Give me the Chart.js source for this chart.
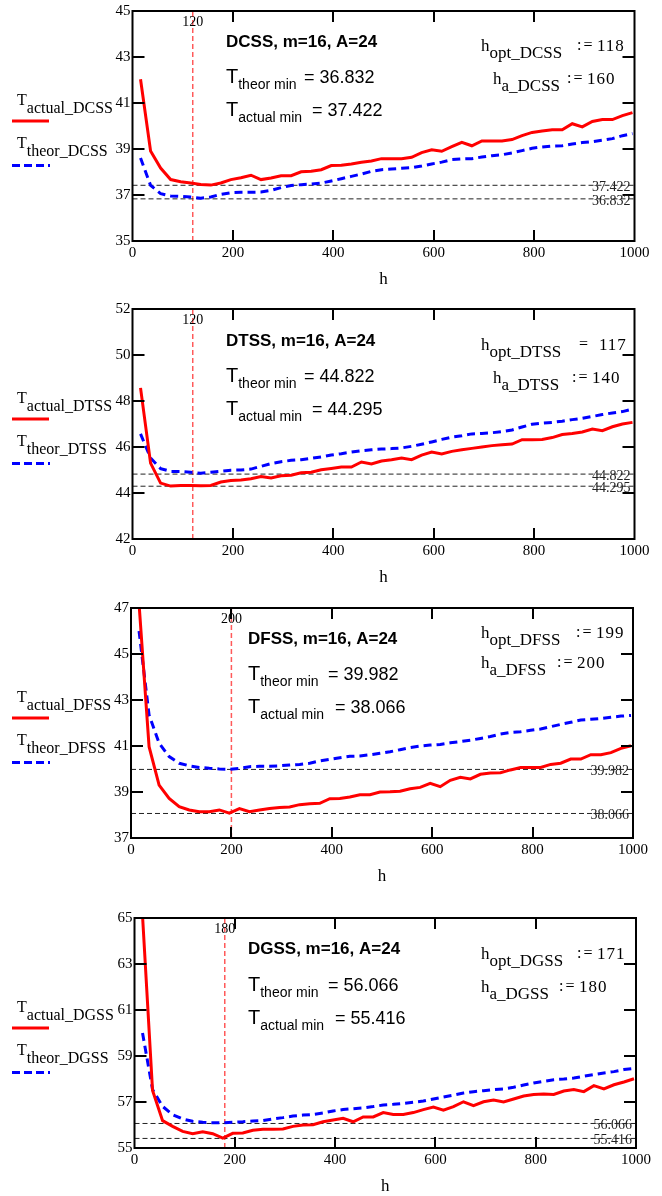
<!DOCTYPE html>
<html>
<head>
<meta charset="utf-8">
<script src="https://cdn.jsdelivr.net/npm/chart.js@4.4.0/dist/chart.umd.min.js"></script>
<style>
  html, body { margin: 0; padding: 0; background: #fff; width: 662px; height: 1196px; overflow: hidden; }
  body { position: relative; }
  canvas { position: absolute; left: 0; }
</style>
</head>
<body>
<canvas id="c0"></canvas>
<canvas id="c1"></canvas>
<canvas id="c2"></canvas>
<canvas id="c3"></canvas>
<script>
// step h (x axis)
const hValues = [16, 36, 56, 76, 96, 116, 136, 156, 176, 196,
                 216, 236, 256, 276, 296, 316, 336, 356, 376, 396,
                 416, 436, 456, 476, 496, 516, 536, 556, 576, 596,
                 616, 636, 656, 676, 696, 716, 736, 756, 776, 796,
                 816, 836, 856, 876, 896, 916, 936, 956, 976, 996];

const actualDCSS = [42.03, 38.91, 38.17, 37.67, 37.58, 37.52, 37.46, 37.43, 37.52, 37.67,
                    37.75, 37.86, 37.67, 37.74, 37.84, 37.84, 38.01, 38.03, 38.10, 38.28,
                    38.29, 38.35, 38.42, 38.48, 38.58, 38.58, 38.58, 38.64, 38.84, 38.97,
                    38.90, 39.10, 39.29, 39.14, 39.35, 39.35, 39.35, 39.41, 39.58, 39.72,
                    39.78, 39.84, 39.84, 40.10, 39.96, 40.20, 40.28, 40.28, 40.45, 40.58];
const theorDCSS = [38.61, 37.42, 37.06, 36.96, 36.94, 36.91, 36.86, 36.91, 37.03, 37.10,
                   37.12, 37.12, 37.13, 37.20, 37.32, 37.41, 37.45, 37.48, 37.52, 37.61,
                   37.71, 37.81, 37.91, 38.03, 38.10, 38.13, 38.16, 38.19, 38.26, 38.35,
                   38.43, 38.54, 38.57, 38.58, 38.65, 38.71, 38.75, 38.83, 38.93, 39.03,
                   39.09, 39.13, 39.14, 39.22, 39.28, 39.32, 39.38, 39.45, 39.58, 39.67];

const actualDTSS = [48.57, 45.30, 44.43, 44.30, 44.33, 44.33, 44.32, 44.33, 44.48, 44.54,
                    44.57, 44.62, 44.72, 44.65, 44.75, 44.77, 44.88, 44.90, 45.01, 45.07,
                    45.13, 45.13, 45.35, 45.26, 45.39, 45.45, 45.52, 45.45, 45.65, 45.78,
                    45.70, 45.81, 45.88, 45.94, 46.00, 46.06, 46.10, 46.13, 46.32, 46.32,
                    46.33, 46.41, 46.54, 46.59, 46.65, 46.78, 46.71, 46.88, 47.00, 47.07];
const theorDTSS = [46.57, 45.52, 45.06, 44.94, 44.93, 44.90, 44.86, 44.90, 44.94, 44.99,
                   45.00, 45.04, 45.16, 45.28, 45.36, 45.42, 45.45, 45.51, 45.57, 45.65,
                   45.71, 45.78, 45.84, 45.88, 45.91, 45.93, 45.96, 46.03, 46.12, 46.22,
                   46.33, 46.43, 46.49, 46.57, 46.59, 46.62, 46.67, 46.74, 46.87, 46.99,
                   47.04, 47.07, 47.12, 47.19, 47.25, 47.33, 47.41, 47.48, 47.54, 47.65];

const actualDFSS = [47.20, 40.97, 39.30, 38.72, 38.36, 38.22, 38.14, 38.14, 38.22, 38.08,
                    38.28, 38.14, 38.22, 38.28, 38.33, 38.35, 38.45, 38.49, 38.51, 38.71,
                    38.72, 38.78, 38.88, 38.88, 39.00, 39.01, 39.03, 39.14, 39.20, 39.38,
                    39.23, 39.51, 39.64, 39.57, 39.77, 39.83, 39.84, 39.96, 40.06, 40.07,
                    40.07, 40.20, 40.25, 40.43, 40.43, 40.62, 40.62, 40.71, 40.90, 41.01];
const theorDFSS = [46.00, 42.35, 41.12, 40.54, 40.25, 40.14, 40.07, 40.03, 40.00, 39.99,
                   40.03, 40.10, 40.12, 40.12, 40.14, 40.17, 40.20, 40.25, 40.35, 40.42,
                   40.49, 40.55, 40.57, 40.62, 40.68, 40.75, 40.84, 40.93, 41.00, 41.04,
                   41.07, 41.14, 41.19, 41.25, 41.33, 41.41, 41.52, 41.59, 41.62, 41.68,
                   41.74, 41.84, 41.94, 42.03, 42.13, 42.16, 42.20, 42.25, 42.30, 42.33];

const actualDGSS = [65.10, 57.50, 56.19, 55.94, 55.72, 55.62, 55.71, 55.62, 55.43, 55.64,
                    55.65, 55.77, 55.81, 55.81, 55.83, 55.94, 56.00, 56.01, 56.14, 56.22,
                    56.29, 56.14, 56.35, 56.35, 56.54, 56.46, 56.46, 56.54, 56.67, 56.78,
                    56.64, 56.80, 57.01, 56.84, 57.01, 57.09, 57.00, 57.13, 57.26, 57.33,
                    57.35, 57.33, 57.48, 57.54, 57.45, 57.71, 57.57, 57.75, 57.87, 58.01];
const theorDGSS = [60.00, 57.54, 56.81, 56.45, 56.26, 56.16, 56.12, 56.10, 56.10, 56.12,
                   56.14, 56.17, 56.19, 56.26, 56.32, 56.39, 56.43, 56.46, 56.52, 56.61,
                   56.67, 56.71, 56.74, 56.80, 56.87, 56.90, 56.94, 56.99, 57.04, 57.13,
                   57.22, 57.30, 57.39, 57.45, 57.49, 57.54, 57.57, 57.64, 57.74, 57.83,
                   57.90, 57.97, 58.00, 58.04, 58.12, 58.19, 58.26, 58.32, 58.41, 58.46];

const schemes   = ['DCSS', 'DTSS', 'DFSS', 'DGSS'];
const theorMin  = [36.832, 44.822, 39.982, 56.066];
const actualMin = [37.422, 44.295, 38.066, 55.416];
const markerH   = [120, 120, 200, 180];
const hOpt      = [118, 117, 199, 171];
const hA        = [160, 140, 200, 180];
const hOptOp    = [':=', '=', ':=', ':='];
const yMin      = [35, 42, 37, 55];
const yMax      = [45, 52, 47, 65];

const actualSeries = [actualDCSS, actualDTSS, actualDFSS, actualDGSS];
const theorSeries  = [theorDCSS, theorDTSS, theorDFSS, theorDGSS];

// page positions of each plot box and its texts
const layout = [
  {top: 10.5,  bottom: 240.5,  left: 132.5, right: 634.5, title: [226, 42],    tTheor: [226, 82, 304],    tActual: [226, 115, 312],  hOpt: [481, 50, 576],    hA: [493, 83, 566]},
  {top: 309,   bottom: 539,    left: 132.5, right: 634.5, title: [226, 341.7], tTheor: [226, 381.7, 304], tActual: [226, 415, 312],  hOpt: [481, 350, 578],   hA: [493, 383, 571]},
  {top: 608.3, bottom: 838.3,  left: 131,   right: 633,   title: [248, 640],   tTheor: [248, 680, 328],   tActual: [248, 713.3, 335], hOpt: [481, 638.3, 575], hA: [481, 668.3, 556]},
  {top: 918.3, bottom: 1148.3, left: 134.5, right: 636,   title: [248, 949.3], tTheor: [248, 991, 328],   tActual: [248, 1024, 335], hOpt: [481, 959, 576],   hA: [481, 992.7, 558]}
];

const SERIF = '"Liberation Serif", "Times New Roman", serif';
const SANS = '"Liberation Sans", Arial, sans-serif';
const PAD_TOP = 16;
const X_AXIS_H = 56;
const Y_AXIS_W = 30;

function subText(ctx, x, y, main, sub, mainFont, subFont, dy) {
  ctx.font = mainFont;
  ctx.fillText(main, x, y);
  const w = ctx.measureText(main).width;
  ctx.font = subFont;
  ctx.fillText(sub, x + w, y + dy);
}

// ":=" / "=" sign followed by the value, Mathcad style
function assignText(ctx, x, y, op, value) {
  ctx.font = '16px ' + SERIF;
  ctx.letterSpacing = '2px';
  ctx.fillText(op, x + 1, y - 1);
  ctx.letterSpacing = '1px';
  ctx.font = '17px ' + SERIF;
  ctx.fillText(String(value), x + 21, y);
  ctx.letterSpacing = '0px';
}

const mathcadLook = {
  id: 'mathcadLook',
  afterDatasetsDraw(chart, args, o) {
    const {ctx, chartArea: a} = chart;
    const x = chart.scales.x, y = chart.scales.y;
    ctx.save();
    // frame
    ctx.strokeStyle = '#000';
    ctx.lineWidth = 2;
    ctx.setLineDash([]);
    ctx.strokeRect(a.left, a.top, a.right - a.left, a.bottom - a.top);
    // inward ticks on all sides
    ctx.beginPath();
    x.ticks.forEach(t => {
      if (t.value <= x.min || t.value >= x.max) return;
      const px = Math.round(x.getPixelForValue(t.value));
      ctx.moveTo(px, a.bottom); ctx.lineTo(px, a.bottom - 11);
      ctx.moveTo(px, a.top); ctx.lineTo(px, a.top + 11);
    });
    y.ticks.forEach(t => {
      if (t.value <= y.min || t.value >= y.max) return;
      const py = Math.round(y.getPixelForValue(t.value));
      ctx.moveTo(a.left, py); ctx.lineTo(a.left + 12, py);
      ctx.moveTo(a.right, py); ctx.lineTo(a.right - 12, py);
    });
    ctx.stroke();

    // labels of the min lines and the marker
    ctx.fillStyle = '#222';
    ctx.font = '14px ' + SERIF;
    ctx.textAlign = 'right';
    ctx.textBaseline = 'middle';
    ctx.fillText(o.theorMin.toFixed(3), a.right - 4, y.getPixelForValue(o.theorMin) + 2);
    ctx.fillText(o.actualMin.toFixed(3), a.right - 4, y.getPixelForValue(o.actualMin) + 2);
    ctx.textAlign = 'center';
    ctx.fillStyle = '#000';
    ctx.fillText(String(o.markerH), x.getPixelForValue(o.markerH), a.top + 11);
    ctx.restore();
  },
  afterDraw(chart, args, o) {
    const ctx = chart.ctx;
    const L = o.box;
    const off = L.top - PAD_TOP;   // canvas top on the page
    ctx.save();
    ctx.fillStyle = '#000';
    ctx.textAlign = 'left';
    ctx.textBaseline = 'alphabetic';

    // title
    ctx.font = 'bold 17px ' + SANS;
    ctx.textBaseline = 'middle';
    ctx.fillText(o.scheme + ', m=16, A=24', L.title[0], L.title[1] - off);
    ctx.textBaseline = 'alphabetic';

    // T theor / T actual
    subText(ctx, L.tTheor[0], L.tTheor[1] - off, 'T', 'theor min', '20px ' + SANS, '14px ' + SANS, 6);
    ctx.font = '18px ' + SANS;
    ctx.fillText('= ' + o.theorMin.toFixed(3), L.tTheor[2], L.tTheor[1] - off);
    subText(ctx, L.tActual[0], L.tActual[1] - off, 'T', 'actual min', '20px ' + SANS, '14px ' + SANS, 6);
    ctx.font = '18px ' + SANS;
    ctx.fillText('= ' + o.actualMin.toFixed(3), L.tActual[2], L.tActual[1] - off);

    // h_opt / h_a
    subText(ctx, L.hOpt[0], L.hOpt[1] - off, 'h', 'opt_' + o.scheme, '17px ' + SERIF, '17px ' + SERIF, 7);
    assignText(ctx, L.hOpt[2], L.hOpt[1] - off, o.hOptOp, o.hOpt);
    subText(ctx, L.hA[0], L.hA[1] - off, 'h', 'a_' + o.scheme, '17px ' + SERIF, '17px ' + SERIF, 7);
    assignText(ctx, L.hA[2], L.hA[1] - off, ':=', o.hA);

    // legend at the left
    const ly = PAD_TOP + 93.5;
    subText(ctx, 17, ly, 'T', 'actual_' + o.scheme, '16px ' + SERIF, '16px ' + SERIF, 8);
    ctx.strokeStyle = '#ff0000';
    ctx.lineWidth = 3;
    ctx.beginPath(); ctx.moveTo(12, ly + 16.5); ctx.lineTo(49, ly + 16.5); ctx.stroke();
    subText(ctx, 17, ly + 43.7, 'T', 'theor_' + o.scheme + ' ', '16px ' + SERIF, '16px ' + SERIF, 8);
    ctx.strokeStyle = '#0000ff';
    ctx.setLineDash([8, 4]);
    ctx.beginPath(); ctx.moveTo(12, ly + 61); ctx.lineTo(50, ly + 61); ctx.stroke();
    ctx.restore();
  }
};

function toPoints(values) {
  return values.map((v, i) => ({x: hValues[i], y: v}));
}

schemes.forEach((scheme, p) => {
  const L = layout[p];
  const canvas = document.getElementById('c' + p);
  const h = Math.round(L.bottom - L.top + PAD_TOP + X_AXIS_H);
  canvas.width = 662;
  canvas.height = h;
  canvas.style.top = (L.top - PAD_TOP) + 'px';
  canvas.style.width = '662px';
  canvas.style.height = h + 'px';

  const datasets = [
    {data: toPoints(actualSeries[p]), borderColor: '#ff0000', borderWidth: 3, pointRadius: 0, tension: 0, clip: 0},
    {data: toPoints(theorSeries[p]), borderColor: '#0000ff', borderWidth: 3, borderDash: [8, 5], pointRadius: 0, tension: 0, clip: 0},
    {data: [{x: 0, y: theorMin[p]}, {x: 1000, y: theorMin[p]}], borderColor: '#222', borderWidth: 1, borderDash: [5, 3], pointRadius: 0},
    {data: [{x: 0, y: actualMin[p]}, {x: 1000, y: actualMin[p]}], borderColor: '#222', borderWidth: 1, borderDash: [5, 3], pointRadius: 0},
    {data: [{x: markerH[p], y: yMin[p]}, {x: markerH[p], y: yMax[p]}], borderColor: '#ff5a5a', borderWidth: 1.5, borderDash: [5, 3], pointRadius: 0}
  ];

  new Chart(canvas.getContext('2d'), {
    type: 'line',
    data: {datasets: datasets},
    options: {
      responsive: false,
      animation: false,
      devicePixelRatio: 1,
      layout: {padding: {top: PAD_TOP, bottom: 0, left: L.left - Y_AXIS_W, right: 662 - L.right}},
      plugins: {
        legend: {display: false},
        tooltip: {enabled: false},
        mathcadLook: {
          box: L, scheme: scheme,
          theorMin: theorMin[p], actualMin: actualMin[p], markerH: markerH[p],
          hOpt: hOpt[p], hA: hA[p], hOptOp: hOptOp[p]
        }
      },
      scales: {
        x: {
          type: 'linear', min: 0, max: 1000,
          ticks: {stepSize: 200, padding: 3, maxRotation: 0, color: '#000', font: {family: SERIF, size: 15},
                  callback: v => String(v)},
          grid: {display: false, drawTicks: false},
          border: {display: false},
          title: {display: true, text: 'h', color: '#000', font: {family: SERIF, size: 17}, padding: {top: 0, bottom: 7}},
          afterFit: s => { s.height = X_AXIS_H; }
        },
        y: {
          type: 'linear', min: yMin[p], max: yMax[p],
          ticks: {stepSize: 2, padding: 2, color: '#000', font: {family: SERIF, size: 15}},
          grid: {display: false, drawTicks: false},
          border: {display: false},
          afterFit: s => { s.width = Y_AXIS_W; }
        }
      }
    },
    plugins: [mathcadLook]
  });
});
</script>
</body>
</html>
